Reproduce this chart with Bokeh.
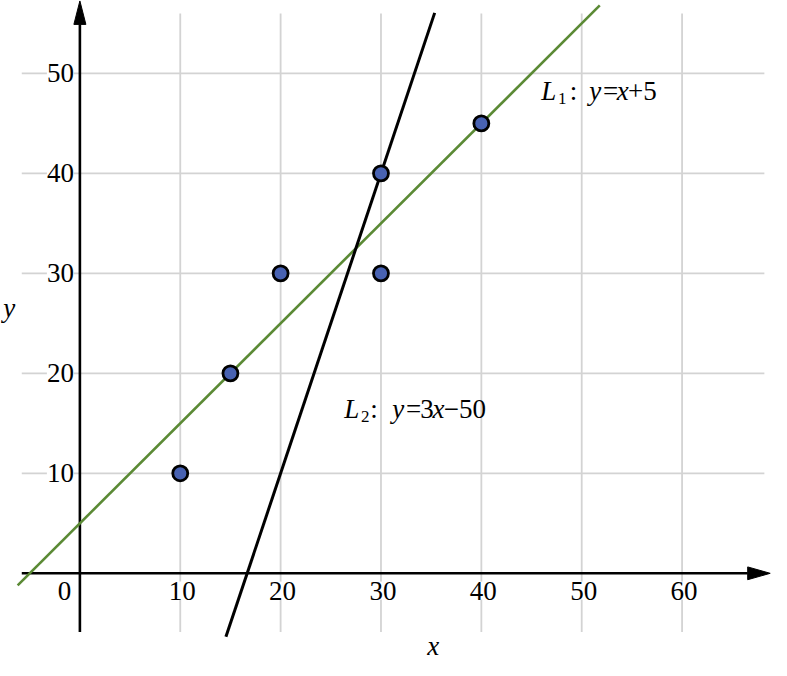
from bokeh.plotting import figure
from bokeh.models import Range1d, Label
from bokeh.embed import file_html
from bokeh.resources import INLINE

# ---------------- data ----------------
x_ticks = [0, 10, 20, 30, 40, 50, 60]
x_tick_labels = ["0", "10", "20", "30", "40", "50", "60"]
y_ticks = [10, 20, 30, 40, 50]
y_tick_labels = ["10", "20", "30", "40", "50"]

pts_x = [10, 15, 20, 30, 30, 40]
pts_y = [10, 20, 30, 40, 30, 45]

# L1: y = x + 5 (green), visible segment end points
l1_x = [-6.2, 51.8]
l1_y = [-1.2, 56.8]
# L2: y = 3x - 50 (black)
l2_x = [14.55, 35.35]
l2_y = [-6.35, 56.05]

grid_x_lo, grid_x_hi = -5.79, 68.2     # horizontal grid line extent
grid_y_lo, grid_y_hi = -5.86, 56.0     # vertical grid line extent
x_axis_tip = 68.78
y_axis_tip = 57.25

# ---------------- layout ----------------
W, H = 771, 660
X0, X1 = -7.91, 68.91
Y0, Y1 = -8.72, 57.29
sx = W / (X1 - X0)   # px per data unit
sy = H / (Y1 - Y0)
REF = 10.245          # reference px per unit (for converting reference pixels)
def rx(px):
    return X0 + px / REF
def ry(py):
    return Y1 - py / 10.24

FONT = "Liberation Serif"
FS = 27
MID = 0.34            # em-box middle above the alphabetic baseline
GRID = "#d3d3d3"
GREEN = "#5b8a35"
BLUE = "#4862b2"

p = figure(width=W, height=H, x_range=Range1d(X0, X1), y_range=Range1d(Y0, Y1),
           x_axis_type=None, y_axis_type=None, toolbar_location=None,
           output_backend="svg", min_border=0)
p.outline_line_color = None
p.background_fill_color = "white"
p.border_fill_color = "white"

# grid lines
gx = x_ticks[1:]
gv = p.segment(x0=gx, y0=[grid_y_lo] * len(gx), x1=gx, y1=[grid_y_hi] * len(gx),
               line_color=GRID, line_width=1.8)
gh = p.segment(x0=[grid_x_lo] * len(y_ticks), y0=y_ticks, x1=[grid_x_hi] * len(y_ticks), y1=y_ticks,
               line_color=GRID, line_width=1.8)
gv.level = "image"
gh.level = "image"

# tick labels (white background interrupts the grid)
for v, t in zip(x_ticks, x_tick_labels):
    off = -15.5 if v == 0 else 2.0
    p.add_layout(Label(x=v, y=0, text=t, x_offset=off, y_offset=-17.3,
                       text_align="center", text_baseline="middle",
                       text_font=FONT, text_font_size=f"{FS}px", text_color="black",
                       background_fill_color="white", level="underlay"))
for v, t in zip(y_ticks, y_tick_labels):
    p.add_layout(Label(x=0, y=v, text=t, x_offset=-6.0, y_offset=0,
                       text_align="right", text_baseline="middle",
                       text_font=FONT, text_font_size=f"{FS}px", text_color="black",
                       background_fill_color="white", level="underlay"))

# axes with arrow heads
head_len_x, head_half_x = 22.5 / sx, 6.4 / sy
head_len_y, head_half_y = 23.5 / sy, 6.0 / sx
p.line([grid_x_lo, x_axis_tip - head_len_x], [0, 0], line_color="black", line_width=2.6)
p.line([0, 0], [grid_y_lo, y_axis_tip - head_len_y], line_color="black", line_width=2.6)
p.patch([x_axis_tip, x_axis_tip - head_len_x, x_axis_tip - head_len_x],
        [0, head_half_x, -head_half_x], fill_color="black", line_color="black", line_width=1)
p.patch([0, head_half_y, -head_half_y],
        [y_axis_tip, y_axis_tip - head_len_y, y_axis_tip - head_len_y],
        fill_color="black", line_color="black", line_width=1)

# the two lines
p.line(l1_x, l1_y, line_color=GREEN, line_width=2.6)
p.line(l2_x, l2_y, line_color="black", line_width=3.0)

# points
p.scatter(pts_x, pts_y, size=15, fill_color=BLUE, line_color="black", line_width=2.8)

# text runs placed by their left edge and alphabetic baseline (reference px)
def run(t, italic, fs, lx, by, align="left"):
    p.add_layout(Label(x=rx(lx), y=ry(by) + MID * fs / sy, text=t, text_align=align,
                       text_baseline="middle", text_font=FONT,
                       text_font_style="italic" if italic else "normal",
                       text_font_size=f"{fs}px", text_color="black"))

# axis names
run("x", True, FS, 441.7, 670, align="center")
run("y", True, FS, 9, 324, align="center")

SUB = 17
B1 = 101.7
for t, it, fs, lx, by in [("L", True, FS, 552, B1), ("1", False, SUB, 569, B1 + 4.5),
                          (":", False, FS, 581, B1), ("y", True, FS, 601, B1),
                          ("=", False, FS, 615, B1), ("x", True, FS, 629, B1),
                          ("+", False, FS, 640.5, B1), ("5", False, FS, 656, B1)]:
    run(t, it, fs, lx, by)
B2 = 427.3
for t, it, fs, lx, by in [("L", True, FS, 351, B2), ("2", False, SUB, 368, B2 + 4.5),
                          (":", False, FS, 377.5, B2), ("y", True, FS, 400, B2),
                          ("=", False, FS, 414, B2), ("3", False, FS, 428.5, B2),
                          ("x", True, FS, 441, B2), ("−", False, FS, 452.5, B2),
                          ("50", False, FS, 468, B2)]:
    run(t, it, fs, lx, by)

open("out.html", "w").write(file_html(p, INLINE))
